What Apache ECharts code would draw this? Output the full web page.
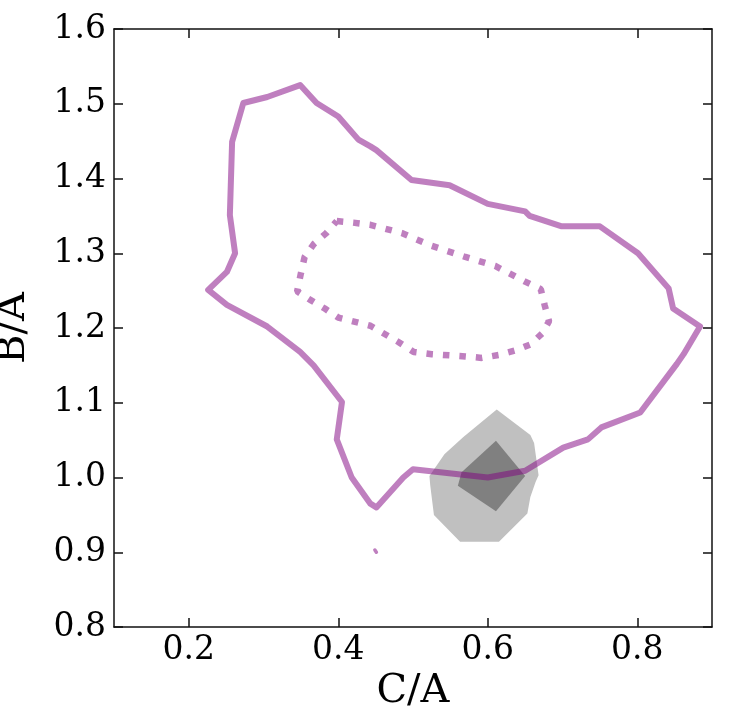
<!DOCTYPE html>
<html>
<head>
<meta charset="utf-8">
<script src="https://cdn.jsdelivr.net/npm/echarts@6/dist/echarts.min.js"></script>
<style>
html,body{margin:0;padding:0;background:#fff;}
#c{width:736px;height:714px;}
</style>
</head>
<body>
<div id="c"></div>
<script>
// x = C/A, y = B/A
const xTicks = [0.2, 0.4, 0.6, 0.8];
const yRange = [0.8, 1.6];
const xRange = [0.1, 0.9];

const outerContour = [
  [0.226,1.251],[0.251,1.275],[0.262,1.300],[0.255,1.351],[0.258,1.449],[0.273,1.501],
  [0.305,1.509],[0.349,1.525],[0.371,1.501],[0.400,1.483],[0.427,1.452],[0.443,1.443],
  [0.451,1.438],[0.498,1.398],[0.549,1.391],[0.600,1.366],[0.650,1.356],[0.656,1.350],
  [0.699,1.336],[0.750,1.336],[0.801,1.300],[0.842,1.253],[0.848,1.226],[0.884,1.202],
  [0.862,1.165],[0.853,1.152],[0.804,1.087],[0.752,1.067],[0.734,1.051],[0.701,1.040],
  [0.650,1.009],[0.600,1.000],[0.500,1.011],[0.487,1.000],[0.451,0.960],[0.443,0.965],
  [0.418,1.000],[0.398,1.051],[0.405,1.101],[0.367,1.150],[0.349,1.168],[0.305,1.202],
  [0.251,1.231],[0.226,1.251]
];

const innerContour = [
  [0.398,1.343],[0.420,1.341],[0.443,1.338],[0.485,1.327],[0.525,1.310],[0.570,1.295],
  [0.610,1.283],[0.650,1.262],[0.671,1.252],[0.676,1.231],[0.682,1.209],[0.673,1.193],
  [0.657,1.178],[0.637,1.170],[0.615,1.164],[0.592,1.160],[0.570,1.162],[0.525,1.165],
  [0.501,1.168],[0.481,1.181],[0.443,1.203],[0.400,1.214],[0.382,1.226],[0.362,1.238],
  [0.345,1.249],[0.350,1.273],[0.355,1.295],[0.367,1.312],[0.384,1.327],[0.398,1.343]
];

const smallIsland = [[0.449,0.903],[0.451,0.903],[0.451,0.900],[0.449,0.900],[0.449,0.903]];

const grayOuter = [
  [0.612,1.091],[0.657,1.057],[0.662,1.046],[0.668,1.003],[0.664,0.994],[0.657,0.974],
  [0.653,0.952],[0.615,0.914],[0.563,0.914],[0.528,0.950],[0.523,0.990],[0.522,1.002],
  [0.542,1.031],[0.567,1.054]
];

const grayInner = [
  [0.611,1.049],[0.650,1.002],[0.611,0.955],[0.560,0.989],[0.565,1.007]
];

const purple = 'rgba(128,0,128,0.5)';
const font = '"DejaVu Serif", serif';

function polySeries(pts, color) {
  return {
    type: 'custom',
    xAxisIndex: 0, yAxisIndex: 0,
    data: [pts[0]],
    silent: true,
    renderItem: function (params, api) {
      const p = pts.map(function (d) { return api.coord(d); });
      return { type: 'polygon', shape: { points: p }, style: { fill: color } };
    }
  };
}

const chart = echarts.init(document.getElementById('c'));
const tickStyle = { inside: true, length: 9, lineStyle: { color: '#111', width: 1.5 } };
const lineStyle = { show: true, onZero: false, lineStyle: { color: '#111', width: 1.5 } };

chart.setOption({
  animation: false,
  backgroundColor: '#fff',
  grid: { left: 114, right: 24, top: 29, bottom: 87, containLabel: false, outerBoundsMode: 'none' },
  xAxis: [
    {
      type: 'value', min: xRange[0], max: xRange[1], position: 'bottom',
      name: 'C/A', nameLocation: 'middle', nameGap: 42,
      nameTextStyle: { fontFamily: font, fontSize: 40, color: '#000' },
      axisLine: lineStyle,
      axisTick: Object.assign({ customValues: xTicks }, tickStyle),
      axisLabel: { customValues: xTicks, fontFamily: font, fontSize: 33, color: '#000', margin: 7,
        formatter: function (v) { return v.toFixed(1); } },
      splitLine: { show: false }
    },
    {
      type: 'value', min: xRange[0], max: xRange[1], position: 'top',
      axisLine: lineStyle,
      axisTick: Object.assign({ customValues: xTicks }, tickStyle),
      axisLabel: { show: false },
      splitLine: { show: false }
    }
  ],
  yAxis: [
    {
      type: 'value', min: yRange[0], max: yRange[1], interval: 0.1, position: 'left',
      name: 'B/A', nameLocation: 'middle', nameGap: 80, nameRotate: 90,
      nameTextStyle: { fontFamily: font, fontSize: 40, color: '#000' },
      axisLine: lineStyle,
      axisTick: tickStyle,
      axisLabel: { fontFamily: font, fontSize: 33, color: '#000', margin: 8,
        formatter: function (v) { return v.toFixed(1); } },
      splitLine: { show: false }
    },
    {
      type: 'value', min: yRange[0], max: yRange[1], interval: 0.1, position: 'right',
      axisLine: lineStyle,
      axisTick: tickStyle,
      axisLabel: { show: false },
      splitLine: { show: false }
    }
  ],
  series: [
    polySeries(grayOuter, '#c0c0c0'),
    polySeries(grayInner, '#808080'),
    {
      type: 'line', xAxisIndex: 0, yAxisIndex: 0, data: outerContour,
      showSymbol: false, symbol: 'none', silent: true,
      lineStyle: { color: purple, width: 6, join: 'round', cap: 'round' }
    },
    {
      type: 'line', xAxisIndex: 0, yAxisIndex: 0, data: innerContour,
      showSymbol: false, symbol: 'none', silent: true,
      lineStyle: { color: purple, width: 6.5, type: [6.5, 10], cap: 'butt' }
    },
    {
      type: 'line', xAxisIndex: 0, yAxisIndex: 0, data: smallIsland,
      showSymbol: false, symbol: 'none', silent: true,
      lineStyle: { color: purple, width: 3.5, join: 'round', cap: 'round' }
    }
  ]
});
</script>
</body>
</html>
